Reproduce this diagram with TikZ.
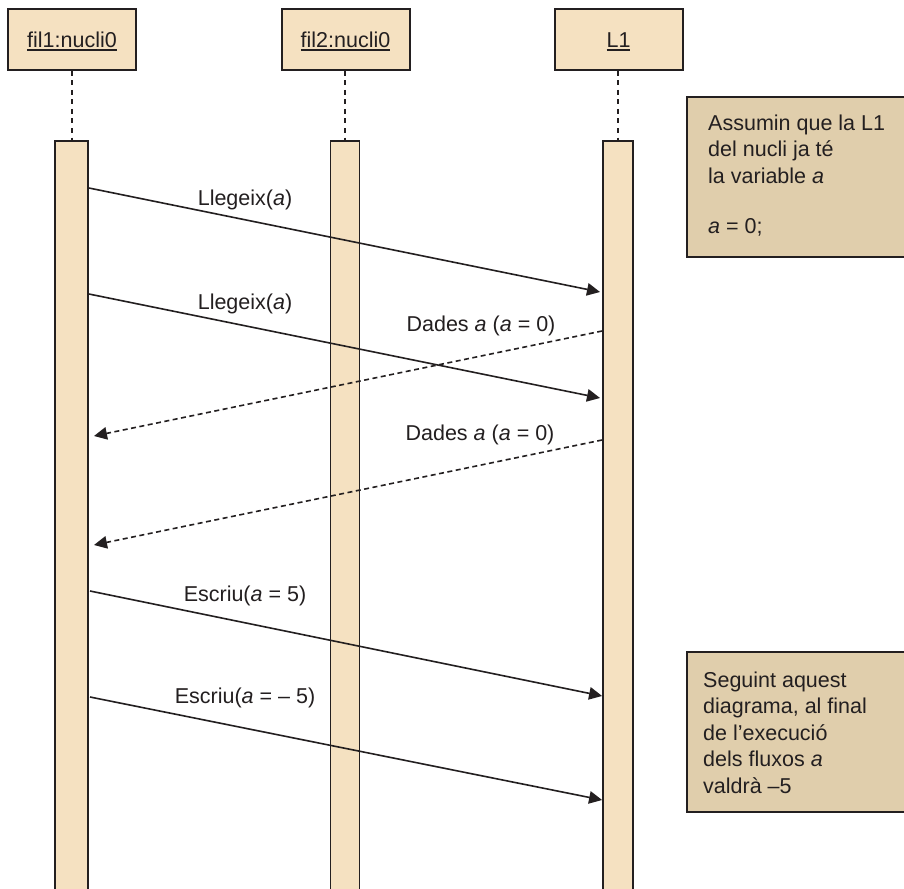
\documentclass[tikz,border=0pt]{standalone}
\usepackage{fontspec}
\setmainfont{Liberation Sans}
\usetikzlibrary{arrows.meta}

\definecolor{objfill}{RGB}{245,225,193}
\definecolor{notefill}{RGB}{224,206,172}
\definecolor{ink}{RGB}{35,31,32}

% underlined object name with a thick rule
\newcommand\ulname[1]{\setbox0\hbox{#1}\rlap{\color{ink}\rule[-3.2pt]{\wd0}{1.6pt}}\box0}

\begin{document}
\begin{tikzpicture}[x=1pt,y=-1pt,
  every node/.style={font=\fontsize{21.5}{26.5}\selectfont, text=ink},
  header/.style={draw=ink, line width=2pt, fill=objfill, minimum width=128pt,
    minimum height=61pt, inner sep=0pt, text height=16pt, text depth=0pt},
  actbar/.style={draw=ink, line width=1.8pt, fill=objfill, anchor=north,
    minimum height=760pt, inner sep=0pt},
  notebox/.style={draw=ink, line width=2pt, fill=notefill, anchor=north west,
    minimum height=160pt, minimum width=230pt, inner sep=0pt},
  notetext/.style={anchor=north west, align=left, inner sep=0pt},
  lifeline/.style={draw=ink, line width=2pt, dash pattern=on 5pt off 4.5pt},
  msg/.style={draw=ink, line width=1.6pt, -{Triangle[length=13pt,width=12.5pt]}},
  reply/.style={msg, dash pattern=on 5pt off 3.5pt},
  lbl/.style={inner sep=0pt, anchor=base}]

\useasboundingbox (0,0) rectangle (904,888);
\fill[white] (0,0) rectangle (904,888);

% objects
\node[header] (o1) at (72,39.5) {\ulname{fil1:nucli0}};
\node[header] (o2) at (345.5,39.5) {\ulname{fil2:nucli0}};
\node[header] (o3) at (618.5,39.5) {\ulname{L1}};

% activation bars
\node[actbar, minimum width=33pt] (a1) at (71.5,140) {};
\node[actbar, minimum width=29pt] (a2) at (345,140) {};
\node[actbar, minimum width=30pt] (a3) at (618,140) {};

% lifelines
\draw[lifeline] (a1.north |- o1.south) -- (a1.north);
\draw[lifeline] (a2.north |- o2.south) -- (a2.north);
\draw[lifeline] (a3.north |- o3.south) -- (a3.north);

% notes
\node[notebox] (n1) at (686,96) {};
\node[notetext] (t1) at (708,114.5)
  {Assumin que la L1\\del nucli ja té\\la variable \textit{a}\\[24pt]\textit{a} = 0;};
\node[notebox] (n2) at (686,651) {};
\node[notetext] (t2) at (703,671.5)
  {Seguint aquest\\diagrama, al final\\de l’execució\\dels fluxos \textit{a}\\valdrà –5};

% message end points
\coordinate (m1a) at (a1.east |- 0,188);
\coordinate (m1b) at (600,292);
\coordinate (m2a) at (a1.east |- 0,294);
\coordinate (m2b) at (600,398);
\coordinate (r1a) at (a3.west |- 0,331);
\coordinate (r1b) at (94,436);
\coordinate (r2a) at (a3.west |- 0,440);
\coordinate (r2b) at (94,545);
\coordinate (m3a) at (90,591);
\coordinate (m3b) at (a3.west |- 0,696);
\coordinate (m4a) at (90,697);
\coordinate (m4b) at (a3.west |- 0,800);

% messages
\draw[msg] (m1a) -- (m1b);
\draw[msg] (m2a) -- (m2b);
\draw[reply] (r1a) -- (r1b);
\draw[reply] (r2a) -- (r2b);
\draw[msg] (m3a) -- (m3b);
\draw[msg] (m4a) -- (m4b);

% message labels
\node[lbl] (l1) at (245,205) {Llegeix(\textit{a})};
\node[lbl] (l2) at (245,309) {Llegeix(\textit{a})};
\node[lbl] (l3) at (481,331.5) {Dades \textit{a} (\textit{a} = 0)};
\node[lbl] (l4) at (480,440.5) {Dades \textit{a} (\textit{a} = 0)};
\node[lbl] (l5) at (245,601.5) {Escriu(\textit{a} = 5)};
\node[lbl] (l6) at (245,703) {Escriu(\textit{a} = – 5)};

\end{tikzpicture}
\end{document}
